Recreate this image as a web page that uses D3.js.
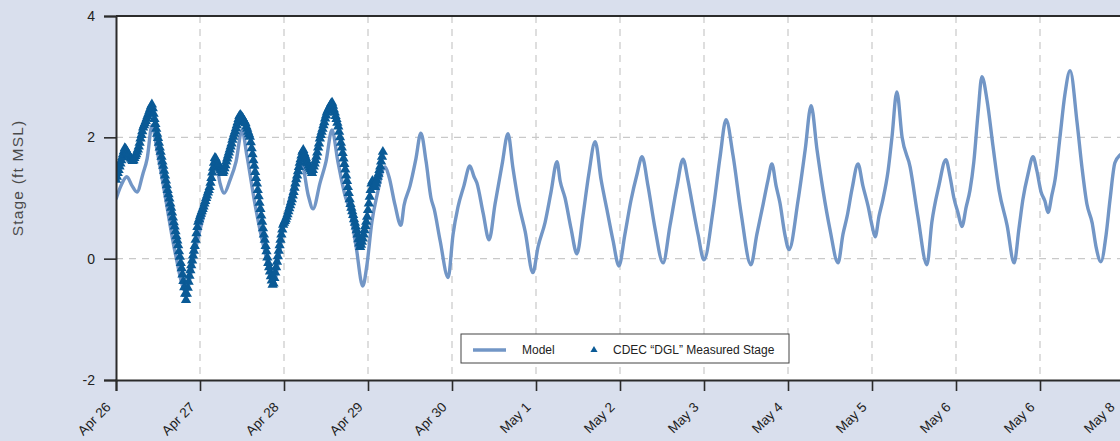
<!DOCTYPE html>
<html>
<head>
<meta charset="utf-8">
<script src="https://cdn.jsdelivr.net/npm/d3@7"></script>
<style>
  html, body { margin: 0; padding: 0; background: #d9dfed; }
  svg { display: block; font-family: "Liberation Sans", Arial, sans-serif; }
</style>
</head>
<body>
<svg id="chart" width="1120" height="441"></svg>
<script>
// ─── DATA ─────────────────────────────────────────────────────────────────────
// x axis runs in hours from Apr 26 00:00; one tick label per day (the "May 6"
// twice is how the original chart was labelled)
const dayLabels = ['Apr 26', 'Apr 27', 'Apr 28', 'Apr 29', 'Apr 30', 'May 1',
  'May 2', 'May 3', 'May 4', 'May 5', 'May 6', 'May 6', 'May 8'];
const yTicks = [-2, 0, 2, 4];
const legendLabels = ['Model', 'CDEC \u201CDGL\u201D Measured Stage'];

// Model stage, hours since Apr 26 00:00 / ft MSL
const modelHours = [0.0, 1.4, 3.1, 4.6, 6.0, 7.7, 8.9, 10.3, 11.7, 14.0, 16.9, 20.0,
  21.7, 23.1, 25.4, 27.1, 28.6, 29.7, 30.9, 32.6, 34.3, 36.0, 37.4, 39.7, 42.6, 45.1,
  46.6, 47.7, 49.7, 51.4, 53.1, 54.9, 56.3, 58.3, 60.0, 61.7, 63.4, 65.4, 66.9, 68.6,
  70.5, 71.7, 73.1, 74.6, 76.9, 78.0, 79.7, 81.4, 82.3, 84.0, 85.7, 87.1, 88.6, 90.0,
  90.9, 92.6, 94.9, 96.3, 97.7, 99.4, 101.1, 102.3, 103.1, 104.9, 106.6, 108.3, 110.3,
  112.0, 113.4, 115.1, 116.9, 119.1, 120.6, 122.6, 124.3, 126.0, 126.9, 128.3, 130.0,
  131.7, 133.4, 135.1, 136.9, 138.6, 140.3, 142.0, 143.7, 145.4, 147.1, 148.9, 150.3,
  152.0, 154.0, 156.3, 158.3, 160.3, 162.0, 163.4, 164.6, 166.3, 168.0, 170.6, 172.6,
  174.3, 176.3, 178.6, 181.4, 183.1, 184.9, 186.3, 187.4, 188.6, 189.7, 191.1, 192.3,
  194.9, 196.9, 198.6, 200.3, 202.0, 204.0, 206.3, 207.7, 208.9, 210.3, 212.0, 213.4,
  214.9, 216.0, 216.9, 218.0, 219.1, 220.6, 221.7, 223.1, 224.6, 226.9, 229.1, 231.7,
  233.1, 235.1, 237.1, 238.3, 239.4, 240.6, 241.7, 242.9, 244.0, 245.1, 246.3, 247.4,
  248.9, 250.6, 252.3, 254.6, 256.6, 258.0, 259.1, 260.6, 262.0, 263.1, 264.3, 265.4,
  266.3, 267.4, 268.3, 269.7, 271.1, 272.6, 274.6, 276.0, 277.4, 278.9, 280.0, 281.4,
  282.9, 284.0, 285.4, 286.9, 288.0];
const modelStage = [0.98, 1.20, 1.35, 1.20, 1.10, 1.40, 1.65, 2.20, 1.80, 1.05, 0.10, -0.55,
  -0.15, 0.25, 0.80, 1.25, 1.55, 1.25, 1.08, 1.30, 1.60, 2.12, 1.70, 0.90, 0.10, -0.38,
  0.05, 0.50, 1.00, 1.35, 1.55, 1.05, 0.82, 1.25, 1.60, 2.12, 1.60, 1.05, 0.78, 0.20,
  -0.45, -0.10, 0.60, 1.05, 1.51, 1.35, 0.89, 0.55, 0.88, 1.20, 1.65, 2.07, 1.60, 1.00,
  0.82, 0.30, -0.31, 0.40, 0.85, 1.20, 1.53, 1.35, 1.25, 0.75, 0.31, 0.90, 1.55,
  2.06, 1.50, 0.90, 0.45, -0.23, 0.20, 0.60, 1.10, 1.60, 1.28, 1.00, 0.50,
  0.08, 0.70, 1.40, 1.93, 1.30, 0.80, 0.30, -0.12, 0.40, 0.95, 1.40, 1.68,
  1.20, 0.50, -0.07, 0.55, 1.20, 1.64, 1.30, 0.92, 0.40, -0.02, 0.80, 1.68,
  2.29, 1.70, 0.75, -0.10, 0.40, 0.90, 1.30, 1.56, 1.20, 0.92, 0.40, 0.15,
  0.97, 1.79, 2.52, 1.79, 1.13, 0.48, -0.07, 0.40, 0.70, 1.15, 1.56, 1.20,
  0.86, 0.55, 0.36, 0.70, 0.97, 1.45, 2.00, 2.75, 2.00, 1.51, 0.70, -0.10,
  0.60, 1.20, 1.63, 1.35, 1.00, 0.75, 0.53, 0.85, 1.13, 1.60, 2.40, 3.00,
  2.60, 1.84, 1.13, 0.55, -0.07, 0.50, 0.97, 1.40, 1.68, 1.45, 1.10, 0.95,
  0.76, 1.05, 1.30, 2.00, 2.70, 3.10, 2.24, 1.50, 0.90, 0.59, 0.20, -0.05,
  0.40, 0.97, 1.58, 1.71, 1.75];

// CDEC "DGL" measured stage, 15-minute readings from Apr 26 00:00 (ft MSL)
const measuredStepHours = 0.25;
const measuredStage = [
  1.30, 1.35, 1.41, 1.46, 1.52, 1.57, 1.62, 1.67, 1.72, 1.77, 1.82,
  1.81, 1.78, 1.75, 1.72, 1.70, 1.67, 1.65, 1.63, 1.61,
  1.62, 1.66, 1.69, 1.72, 1.76, 1.80, 1.85, 1.91, 1.98, 2.04, 2.10,
  2.16, 2.20, 2.23, 2.27, 2.31, 2.35, 2.39, 2.43, 2.47, 2.51, 2.54,
  2.48, 2.39, 2.30, 2.22, 2.14, 2.06, 1.99, 1.91, 1.83, 1.76, 1.68, 1.60,
  1.53, 1.45, 1.37, 1.29, 1.21, 1.13, 1.06, 0.99, 0.91, 0.84, 0.76, 0.68,
  0.60, 0.53, 0.45, 0.37, 0.30, 0.22, 0.12, 0.03, -0.07, -0.16, -0.26, -0.37, -0.47, -0.58, -0.68,
  -0.58, -0.48, -0.38, -0.28, -0.19, -0.11, -0.03, 0.05, 0.13, 0.21, 0.31, 0.42, 0.52,
  0.61, 0.65, 0.70, 0.74, 0.78, 0.82, 0.86, 0.91, 0.95, 1.00, 1.04, 1.09, 1.13, 1.18,
  1.25, 1.33, 1.42, 1.50, 1.58, 1.66, 1.65, 1.61, 1.58, 1.55, 1.51, 1.48, 1.46, 1.43, 1.41,
  1.44, 1.49, 1.54, 1.60, 1.65, 1.70, 1.75, 1.80, 1.85, 1.90, 1.96, 2.01, 2.06, 2.10, 2.15, 2.20, 2.25, 2.30, 2.35,
  2.37, 2.35, 2.33, 2.31, 2.28, 2.26, 2.23, 2.18, 2.14, 2.09, 2.05, 2.01,
  1.92, 1.82, 1.72, 1.62, 1.53, 1.43, 1.33, 1.24, 1.13, 1.03, 0.92, 0.82, 0.71, 0.61,
  0.50, 0.40, 0.31, 0.21, 0.12, 0.02, -0.07, -0.14, -0.21, -0.29, -0.36, -0.43,
  -0.41, -0.32, -0.23, -0.14, -0.05, 0.04, 0.13, 0.22, 0.31, 0.40, 0.48,
  0.56, 0.59, 0.62, 0.65, 0.69, 0.73, 0.78, 0.83, 0.88, 0.93, 0.98, 1.04,
  1.10, 1.17, 1.24, 1.31, 1.37, 1.44, 1.51, 1.58, 1.64, 1.70, 1.76,
  1.79, 1.74, 1.70, 1.66, 1.61, 1.57, 1.53, 1.50, 1.47, 1.44, 1.41,
  1.46, 1.52, 1.57, 1.62, 1.68, 1.75, 1.83, 1.90, 1.98,
  2.04, 2.09, 2.14, 2.20, 2.25, 2.31, 2.36, 2.41, 2.44, 2.47, 2.50, 2.53, 2.56,
  2.57, 2.52, 2.46, 2.41, 2.35, 2.30, 2.24, 2.18, 2.09, 2.00, 1.91, 1.83, 1.74, 1.65, 1.56,
  1.47, 1.37, 1.28, 1.18, 1.08, 0.98, 0.90, 0.84, 0.78, 0.72, 0.65, 0.59, 0.53, 0.47, 0.40, 0.32, 0.25,
  0.19, 0.23, 0.28, 0.33, 0.40, 0.47, 0.54, 0.61, 0.69, 0.80, 0.91, 1.02, 1.13, 1.24,
  1.28, 1.25, 1.21, 1.18, 1.24, 1.29, 1.35, 1.40, 1.46, 1.52, 1.60, 1.68, 1.76];
// ──────────────────────────────────────────────────────────────────────────────

const MODEL_COLOR = '#7296c6';
const MEASURED_COLOR = '#0a5a96';
const AXIS_COLOR = '#2b2b2b';

const margin = { top: 16, left: 116 };
const width = 1008;   // 12 days, runs a little past the right edge like the original
const height = 364;

const svg = d3.select('#chart');
const g = svg.append('g').attr('transform', `translate(${margin.left},${margin.top})`);

const x = d3.scaleLinear().domain([0, 24 * (dayLabels.length - 1)]).range([0, width]);
const y = d3.scaleLinear().domain([-2, 4]).range([height, 0]);

svg.append('defs').append('clipPath').attr('id', 'plot-clip')
  .append('rect').attr('width', width).attr('height', height);

g.append('rect').attr('width', width).attr('height', height).attr('fill', '#fff');

// grid
const dayHours = dayLabels.map((d, i) => i * 24);
g.append('g').selectAll('line')
  .data(dayHours.slice(1))
  .join('line')
  .attr('x1', (d) => x(d)).attr('x2', (d) => x(d))
  .attr('y1', 0).attr('y2', height)
  .attr('stroke', '#c9c9c9').attr('stroke-width', 1.2).attr('stroke-dasharray', '7,6');
g.append('g').selectAll('line')
  .data(yTicks.filter((d) => d > -2 && d < 4))
  .join('line')
  .attr('x1', 0).attr('x2', width)
  .attr('y1', (d) => y(d)).attr('y2', (d) => y(d))
  .attr('stroke', '#c9c9c9').attr('stroke-width', 1.2).attr('stroke-dasharray', '7,6');

const plot = g.append('g').attr('clip-path', 'url(#plot-clip)');

// model line
const model = modelHours.map((h, i) => ({ h, v: modelStage[i] }));
plot.append('path')
  .datum(model)
  .attr('fill', 'none')
  .attr('stroke', MODEL_COLOR)
  .attr('stroke-width', 3.4)
  .attr('stroke-linejoin', 'round')
  .attr('d', d3.line().x((d) => x(d.h)).y((d) => y(d.v)).curve(d3.curveMonotoneX));

// measured triangles
const tri = d3.symbol().type(d3.symbolTriangle).size(46);
plot.append('g').selectAll('path')
  .data(measuredStage)
  .join('path')
  .attr('d', tri)
  .attr('fill', MEASURED_COLOR)
  .attr('transform', (d, i) => `translate(${x(i * measuredStepHours)},${y(d)})`);

// axes
const yAxis = g.append('g')
  .call(d3.axisLeft(y).tickValues(yTicks).tickSize(12).tickPadding(9).tickFormat((d) => String(d)));
const xAxis = g.append('g').attr('transform', `translate(0,${height})`)
  .call(d3.axisBottom(x).tickValues(dayHours).tickSize(11).tickFormat((d, i) => dayLabels[i]));

[xAxis, yAxis].forEach((ax) => {
  ax.select('.domain').attr('stroke', AXIS_COLOR).attr('stroke-width', 2);
  ax.selectAll('.tick line').attr('stroke', AXIS_COLOR).attr('stroke-width', 1.6);
  ax.selectAll('.tick text').attr('fill', '#222').attr('font-family', '"Liberation Sans", Arial, sans-serif');
});
yAxis.selectAll('.tick text').attr('font-size', 14);
// last label sits at the window edge; nudge it in so it isn't clipped
const lastTick = dayLabels.length - 1;
xAxis.selectAll('.tick text')
  .attr('font-size', 13.5)
  .attr('text-anchor', 'end')
  .attr('x', 0).attr('y', 0).attr('dy', 0)
  .attr('transform', (d, i) => `translate(${i === lastTick ? -9 : -5},28) rotate(-45)`);

// top border
g.append('line')
  .attr('x1', 0).attr('x2', width).attr('y1', 0).attr('y2', 0)
  .attr('stroke', AXIS_COLOR).attr('stroke-width', 2);

// y title
svg.append('text')
  .attr('transform', 'translate(23,178) rotate(-90)')
  .attr('text-anchor', 'middle')
  .attr('font-size', 15.5)
  .attr('letter-spacing', 1.2)
  .attr('fill', '#4a4a4a')
  .text('Stage (ft MSL)');

// legend
const legend = svg.append('g').attr('transform', 'translate(461,334)');
legend.append('rect').attr('width', 328).attr('height', 29)
  .attr('fill', '#fff').attr('stroke', '#444').attr('stroke-width', 1);
legend.append('line').attr('x1', 12).attr('x2', 45).attr('y1', 16).attr('y2', 16)
  .attr('stroke', MODEL_COLOR).attr('stroke-width', 3.4);
legend.append('text').attr('x', 61).attr('y', 20).attr('font-size', 12).attr('fill', '#222')
  .text(legendLabels[0]);
legend.append('path').attr('d', d3.symbol().type(d3.symbolTriangle).size(22))
  .attr('fill', MEASURED_COLOR).attr('transform', 'translate(133,16)');
legend.append('text').attr('x', 152).attr('y', 20).attr('font-size', 12).attr('fill', '#222')
  .text(legendLabels[1]);
</script>
</body>
</html>
